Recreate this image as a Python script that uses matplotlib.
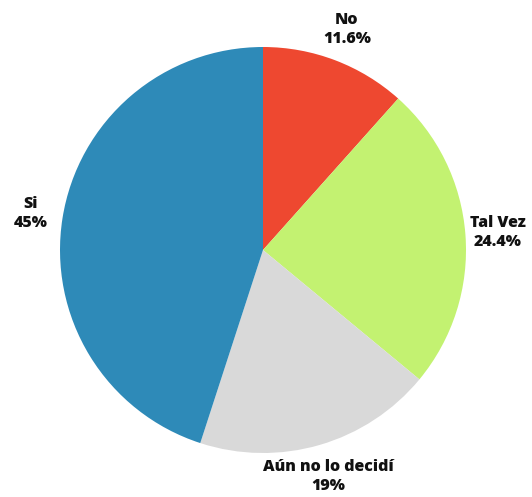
import numpy as np
import matplotlib.pyplot as plt

# data
labels = ['No', 'Tal Vez', 'Aún no lo decidí', 'Si']
values = [11.6, 24.4, 19, 45]
colors = ['#ee4830', '#c3f271', '#d9d9d9', '#2e8ab8']

fig = plt.figure(figsize=(5.32, 4.97), dpi=100)
ax = fig.add_axes([0, 0, 1, 1])

cx, cy, r = 263, 247, 203
wedges, _ = ax.pie(values, colors=colors, startangle=90, counterclock=False,
                   center=(cx, cy), radius=r, frame=True)
ax.set_xlim(0, 532)
ax.set_ylim(0, 497)
ax.set_aspect('equal')
ax.axis('off')

# centred labels outside each slice
for w, lab, v in zip(wedges, labels, values):
    mid = np.deg2rad((w.theta1 + w.theta2) / 2)
    x = cx + 1.16 * r * np.cos(mid)
    y = cy + 1.16 * r * np.sin(mid)
    ax.text(x, y, f"{lab}\n{v:g}%", ha='center', va='center',
            fontsize=11.5, fontweight='heavy', family='Open Sans',
            linespacing=1.25, color='#111111')

fig.savefig('out.png', dpi=100)
